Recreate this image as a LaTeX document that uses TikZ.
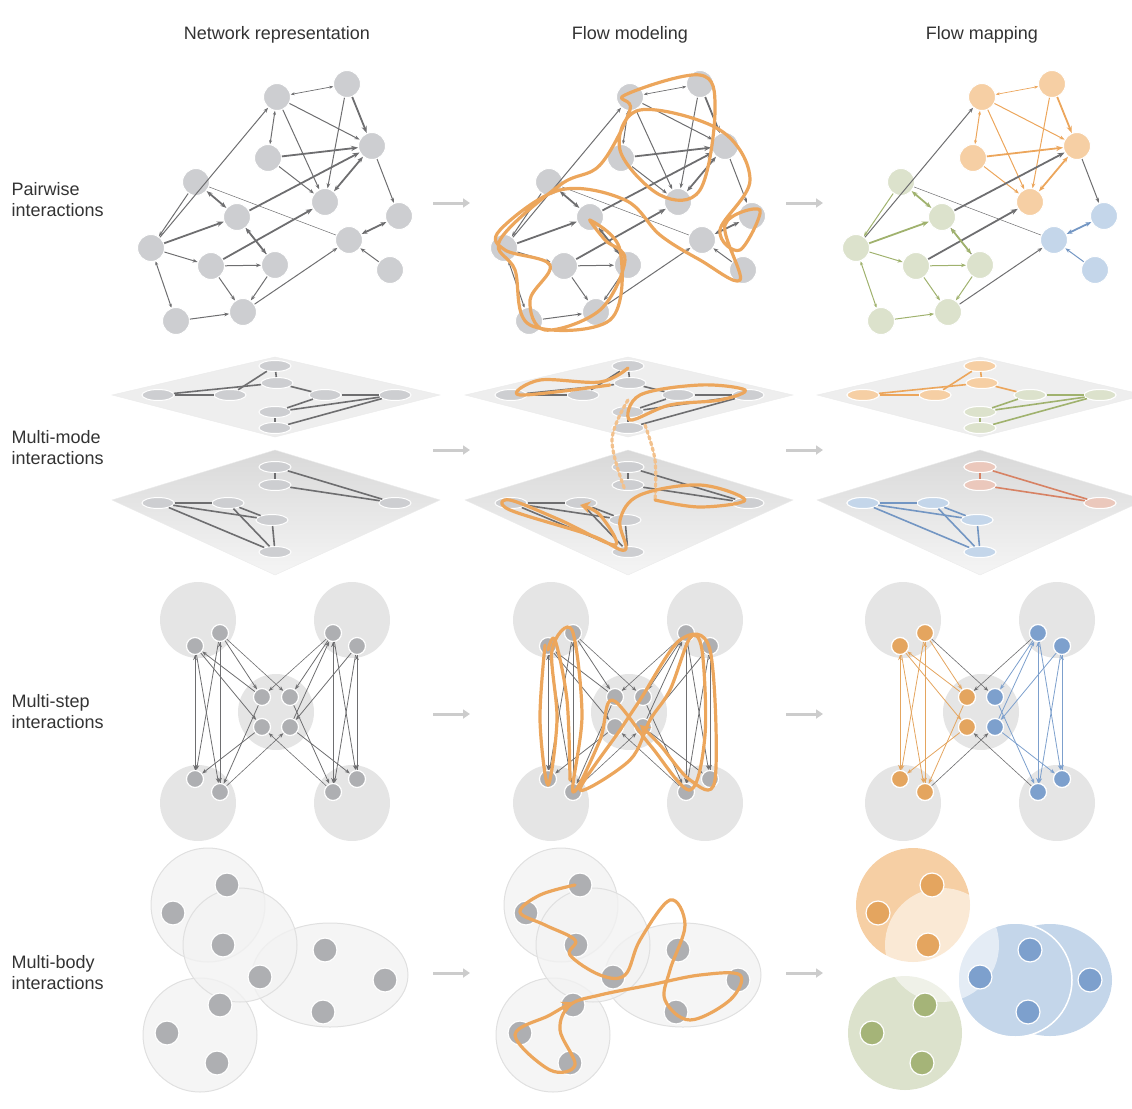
\documentclass[tikz,border=0pt]{standalone}
\usepackage{fontspec}
\setmainfont{Liberation Sans}
\usetikzlibrary{arrows.meta}
\definecolor{ng}{RGB}{205,206,209}
\definecolor{eg}{RGB}{110,110,112}
\definecolor{fo}{RGB}{236,166,92}
\definecolor{no}{RGB}{246,207,164}
\definecolor{nG}{RGB}{220,226,204}
\definecolor{nB}{RGB}{196,214,234}
\definecolor{eG}{RGB}{160,178,110}
\definecolor{eB}{RGB}{115,150,195}
\definecolor{eR}{RGB}{215,130,100}
\definecolor{nR}{RGB}{235,200,188}
\definecolor{dO}{RGB}{228,165,95}
\definecolor{dG}{RGB}{165,180,120}
\definecolor{dB}{RGB}{125,160,205}
\definecolor{pl}{RGB}{238,238,238}
\tikzset{
 nd/.style={circle,fill=ng,draw=white,line width=1pt,minimum size=27pt,inner sep=0},
 sm/.style={circle,fill=ng!85!black,draw=white,line width=1.2pt,minimum size=17pt,inner sep=0},
 el/.style={ellipse,fill=ng,draw=white,line width=1pt,minimum width=32pt,minimum height=11pt,inner sep=0},
 ed/.style={draw=eg,line width=1pt,-{Stealth[length=5pt]}},
 edt/.style={draw=eg,line width=1.8pt,-{Stealth[length=7pt]}},
 ln/.style={draw=eg,line width=1.6pt},
 flow/.style={draw=fo,line width=3.2pt,line cap=round,line join=round},
 lab/.style={font=\fontsize{18}{21}\selectfont,text=black!80,align=left,anchor=west},
 hd/.style={font=\fontsize{18}{21}\selectfont,text=black!80},
 bigc/.style={circle,fill=black!10,minimum size=76pt,inner sep=0},
 mb/.style={fill=black!5,fill opacity=0.8,draw=black!12,line width=1pt},
 carr/.style={draw=black!20,line width=3pt,-{Triangle[length=7pt,width=9pt]}},
}
\usetikzlibrary{shapes.geometric}
\begin{document}
\begin{tikzpicture}[x=1pt,y=-1pt]
\useasboundingbox (0,0) rectangle (1132,1108);
\node[hd] (h1) at (277,35) {Network representation};
\node[hd] (h2) at (630,35) {Flow modeling};
\node[hd] (h3) at (982,35) {Flow mapping};
\node[lab] (l1) at (8,200) {Pairwise\\interactions};
\node[lab] (l2) at (8,448) {Multi-mode\\interactions};
\node[lab] (l3) at (8,712) {Multi-step\\interactions};
\node[lab] (l4) at (8,973) {Multi-body\\interactions};
\foreach \y/\n in {203/1,450/2,714/3,973/4}{
 \coordinate (ca\n) at (433,\y); \coordinate (cb\n) at (470,\y);
 \coordinate (cc\n) at (786,\y); \coordinate (cd\n) at (823,\y);
 \draw[carr] (ca\n) -- (cb\n); \draw[carr] (cc\n) -- (cd\n);}
% ---------- Row 1
\foreach \dx/\p in {0/a,353/b,705/c}{
\begin{scope}[xshift=\dx]
\foreach \n/\x/\y in {A/347/84,B/277/97,C/372/146,D/268/158,E/196/182,F/325/202,G/237/217,H/399/216,I/349/240,J/151/248,K/211/266,L/275/265,M/390/270,N/243/312,O/176/321}
 \node[nd] (\p\n) at (\x,\y) {};
\end{scope}}
\foreach \n in {A,B,C,D,F} \node[nd,fill=no] (cc\n) at (c\n) {};
\foreach \n in {E,G,J,K,L,N,O} \node[nd,fill=nG] (cg\n) at (c\n) {};
\foreach \n in {H,I,M} \node[nd,fill=nB] (cb\n) at (c\n) {};
\foreach \p/\o/\g/\b in {a/eg/eg/eg,b/eg/eg/eg,c/fo/eG/eB}{
 \draw[ed,\o,{Stealth[length=4pt]}-{Stealth[length=4pt]},line width=0.7pt] (\p B) -- (\p A);
 \draw[edt,\o] (\p A) -- (\p C);
 \draw[ed,\o] (\p A) -- (\p F);
 \draw[ed,\o] (\p B) -- (\p F);
 \draw[ed,\o] (\p B) -- (\p C);
 \draw[ed,\o,{Stealth[length=4pt]}-{Stealth[length=4pt]}] (\p B) -- (\p D);
 \draw[edt,\o] (\p D) -- (\p C);
 \draw[ed,\o] (\p D) -- (\p F);
 \draw[edt,\o,{Stealth[length=6pt]}-{Stealth[length=6pt]}] (\p F) -- (\p C);
 \draw[edt,eg] (\p G) -- (\p C);
 \draw[edt,eg] (\p K) -- (\p F);
 \draw[ed,eg] (\p J) -- (\p B);
 \draw[eg,line width=0.5pt] (\p E) -- (\p I);
 \draw[ed,eg] (\p C) -- (\p H);
 \draw[ed,eg] (\p N) -- (\p I);
 \draw[ed,eg] (\p L) -- (\p G);
 \draw[ed,\g] (\p E) -- (\p J);
 \draw[edt,\g,{Stealth[length=6pt]}-{Stealth[length=6pt]}] (\p E) -- (\p G);
 \draw[edt,\g] (\p J) -- (\p G);
 \draw[edt,\g,{Stealth[length=6pt]}-{Stealth[length=6pt]}] (\p G) -- (\p L);
 \draw[ed,\g] (\p J) -- (\p K);
 \draw[ed,\g] (\p K) -- (\p N);
 \draw[ed,\g,{Stealth[length=4pt]}-{Stealth[length=4pt]}] (\p J) -- (\p O);
 \draw[ed,\g] (\p O) -- (\p N);
 \draw[ed,\g] (\p L) -- (\p N);
 \draw[ed,\g] (\p K) -- (\p L);
 \draw[edt,\b,{Stealth[length=6pt]}-{Stealth[length=6pt]}] (\p I) -- (\p H);
 \draw[ed,\b] (\p M) -- (\p I);
}
\draw[flow,-{Stealth[length=10pt,width=12pt]}] plot[smooth cycle,tension=0.6] coordinates {(625,95)(700,75)(715,110)(700,190)(660,195)(620,150)(640,110)(720,130)(750,180)(720,230)(740,250)(760,210)(725,225)(740,280)(700,260)(660,235)(625,200)(560,190)(500,230)(505,250)(550,265)(530,300)(545,330)(600,310)(625,260)(605,240)(590,220)(620,250)(610,320)(530,325)(515,270)(500,240)(560,185)(600,165)(630,110)};
% ---------- Row 2
\foreach \dx/\p in {0/a,353/b,705/c}{
\begin{scope}[xshift=\dx]
\fill[pl,draw=black!8] (112,395) -- (275,357) -- (440,395) -- (275,437) -- cycle;
\shade[top color=black!15,bottom color=black!4,draw=black!8] (112,500) -- (275,450) -- (440,500) -- (275,575) -- cycle;
\foreach \n/\x/\y in {a/158/395,b/230/395,c/275/366,d/277/383,e/325/395,f/395/395,g/275/412,h/275/428}
 \node[el] (\p u\n) at (\x,\y) {};
\foreach \n/\x/\y in {a/275/467,b/275/485,c/158/503,d/228/503,e/395/503,f/272/520,g/275/552}
 \node[el] (\p l\n) at (\x,\y) {};
\end{scope}}
\foreach \n in {a,b,c,d} \node[el,fill=no] at (cu\n) {};
\foreach \n in {e,f,g,h} \node[el,fill=nG] at (cu\n) {};
\foreach \n in {c,d,f,g} \node[el,fill=nB] at (cl\n) {};
\foreach \n in {a,b,e} \node[el,fill=nR] at (cl\n) {};
\foreach \p/\o/\g/\b/\r in {a/eg/eg/eg/eg,b/eg/eg/eg/eg,c/fo/eG/eB/eR}{
 \draw[ln,\o] (\p ua) -- (\p ub); \draw[ln,\o] (\p ub) -- (\p uc); \draw[ln,\o] (\p uc) -- (\p ud);
 \draw[ln,\o] (\p ua) -- (\p ud); \draw[ln,\o] (\p ud) -- (\p ue);
 \draw[ln,\g] (\p ue) -- (\p uf); \draw[ln,\g] (\p ue) -- (\p ug); \draw[ln,\g] (\p ug) -- (\p uh);
 \draw[ln,\g] (\p uf) -- (\p uh); \draw[ln,\g] (\p uf) -- (\p ug);
 \draw[ln,\r] (\p la) -- (\p lb); \draw[ln,\r] (\p lb) -- (\p le); \draw[ln,\r] (\p la) -- (\p le);
 \draw[ln,\b] (\p lc) -- (\p ld); \draw[ln,\b] (\p lc) -- (\p lf); \draw[ln,\b] (\p lc) -- (\p lg);
 \draw[ln,\b] (\p ld) -- (\p lf); \draw[ln,\b] (\p lf) -- (\p lg); \draw[ln,\b] (\p ld) -- (\p lg);
}
\draw[flow] plot[smooth,tension=0.6] coordinates {(610,385)(520,395)(540,380)(600,382)(628,368)};
\draw[flow] plot[smooth cycle,tension=0.6] coordinates {(640,395)(700,385)(745,390)(720,400)(670,405)(630,420)};
\draw[flow,dashed,draw=fo!70] plot[smooth,tension=0.6] coordinates {(628,400)(612,440)(625,490)};
\draw[flow,dashed,draw=fo!70] plot[smooth,tension=0.6] coordinates {(645,425)(655,460)(655,500)};
\draw[flow,-{Stealth[length=10pt,width=12pt]}] plot[smooth,tension=0.6] coordinates {(655,500)(700,507)(745,500)(700,485)(640,495)(620,520)(625,550)(590,535)(510,510)(510,500)(560,520)(615,545)(600,515)(580,505)};
% ---------- Row 3
\foreach \dx/\p in {0/a,353/b,705/c}{
\begin{scope}[xshift=\dx]
\foreach \n/\x/\y in {1/198/620,2/352/620,3/276/712,4/198/803,5/352/803}
 \node[bigc] (\p C\n) at (\x,\y) {};
\foreach \n/\x/\y in {a/195/646,b/220/633,c/333/633,d/357/646,e/262/697,f/290/697,g/262/727,h/290/727,i/195/779,j/220/792,k/333/792,l/357/779}
 \node[sm] (\p s\n) at (\x,\y) {};
\end{scope}}
\foreach \n in {a,b,e,g,i,j} \node[sm,fill=dO] at (cs\n) {};
\foreach \n in {c,d,f,h,k,l} \node[sm,fill=dB] at (cs\n) {};
\foreach \p/\o/\b in {a/eg/eg,b/eg/eg,c/dO/dB}{
 \foreach \u/\v in {a/i,a/j,b/i,b/j,i/a,j/b}{\draw[ed,\o,line width=0.8pt] (\p s\u) -- (\p s\v);}
 \foreach \u/\v in {c/k,d/l,k/c,l/d,c/l,d/k}{\draw[ed,\b,line width=0.8pt] (\p s\u) -- (\p s\v);}
 \foreach \u/\v in {b/e,a/g,e/j,g/i,e/a}{\draw[ed,\o,line width=0.8pt] (\p s\u) -- (\p s\v);}
 \foreach \u/\v in {c/f,d/h,f/k,h/l,h/c}{\draw[ed,\b,line width=0.8pt] (\p s\u) -- (\p s\v);}
 \foreach \u/\v in {b/f,j/h,c/e,k/g}{\draw[ed,eg,line width=0.6pt] (\p s\u) -- (\p s\v);}
}
\draw[flow,-{Stealth[length=10pt,width=12pt]}] plot[smooth,tension=0.55] coordinates {(545,645)(540,720)(548,785)(557,720)(552,650)(572,630)(582,715)(573,792)(600,740)(612,700)(650,745)(690,790)(705,735)(702,650)(690,638)(670,690)(650,720)(630,760)(580,790)(620,730)(640,700)(680,640)(710,650)(715,780)(690,780)(660,745)(640,725)};
\draw[flow] plot[smooth,tension=0.55] coordinates {(548,650)(555,640)(567,700)(570,780)};
% ---------- Row 4
\foreach \dx/\p in {0/a,353/b}{
\begin{scope}[xshift=\dx]
\draw[mb] (208,905) circle (57);
\draw[mb] (200,1035) circle (57);
\draw[mb] (330,975) ellipse (78 and 52);
\draw[mb] (240,945) circle (57);
\foreach \n/\x/\y in {a/227/885,b/173/913,c/223/945,d/260/977,e/220/1005,f/167/1033,g/217/1063,h/325/950,i/385/980,j/323/1012}
 \node[sm,fill=ng!85!black,minimum size=24pt] (\p m\n) at (\x,\y) {};
\end{scope}}
\fill[no] (913,905) circle (57);
\fill[nG] (905,1033) circle (57);
\fill[nB] (1050,980) ellipse (62 and 56);
\draw[draw=white,line width=1.5pt,fill=nB] (1015,980) circle (57);
\fill[white,opacity=0.55] (942,945) circle (57);
\foreach \n/\x/\y/\c in {a/932/885/dO,b/878/913/dO,c/928/945/dO,d/980/977/dB,e/925/1005/dG,f/872/1033/dG,g/922/1063/dG,h/1030/950/dB,i/1090/980/dB,j/1028/1012/dB}
 \node[sm,fill=\c,minimum size=24pt] (cm\n) at (\x,\y) {};
\draw[flow,-{Stealth[length=10pt,width=12pt]}] plot[smooth,tension=0.6] coordinates {(575,885)(540,895)(520,912)(545,925)(575,940)(570,955)(600,975)(625,975)(640,940)(670,900)(685,925)(670,970)(665,1000)(690,1020)(730,1000)(740,975)(700,975)(650,985)(600,995)(570,1005)(560,1030)(575,1065)(550,1070)(515,1035)(550,1015)(572,1002)};
\end{tikzpicture}
\end{document}
